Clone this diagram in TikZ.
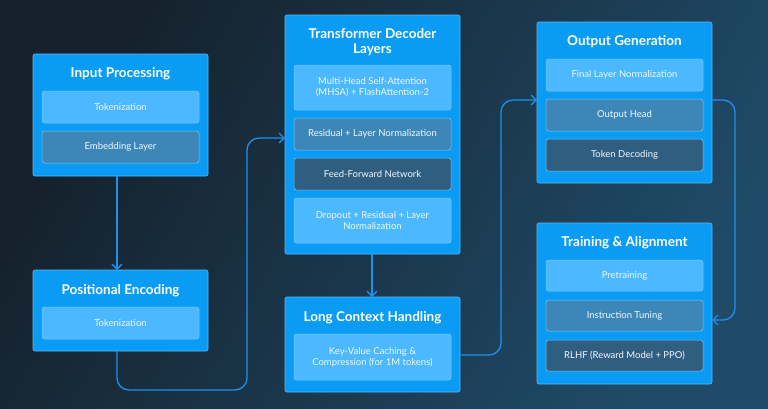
\documentclass[tikz,border=0pt]{standalone}
\usepackage{fontspec}
\setmainfont{Lato}
\usetikzlibrary{arrows.meta}
\definecolor{bgA}{HTML}{15212C}
\definecolor{bgB}{HTML}{1F4B68}
\definecolor{outer}{HTML}{0A9BF5}
\definecolor{lite}{HTML}{4CB8FF}
\definecolor{midc}{HTML}{3D87B8}
\definecolor{dark}{HTML}{2F5E80}
\definecolor{edge}{HTML}{7CC8F5}
\definecolor{wire}{HTML}{1E90F0}
\begin{document}
\begin{tikzpicture}[x=1pt,y=-1pt,
  box/.style={draw=edge!70!outer,line width=0.6pt,fill=outer,rounded corners=2pt},
  sub/.style={draw=edge,line width=0.5pt,rounded corners=2.5pt,text=white!92!lite,font=\fontsize{9.5}{11}\selectfont,align=center,inner sep=0pt},
  ttl/.style={text=white,font=\fontsize{13.5}{15}\selectfont\bfseries,align=center},
  wr/.style={draw=wire,line width=1.3pt,rounded corners=12pt,-{Straight Barb[length=5pt,width=10pt]}}]
\shade[left color=bgA,right color=bgB,shading angle=60] (0,0) rectangle (768,408);
\useasboundingbox (0,0) rectangle (768,408);
% boxes
\path[box] (33,54) rectangle (208,176) coordinate (ipBR);
\node[box,draw=none,fill=none,minimum width=0pt] (ip) at (120.5,115) {};
\coordinate (ipb) at (117,176);
\node[ttl] (ipt) at (120.5,74) {Input Processing};
\node[sub,fill=lite,minimum width=157pt,minimum height=32pt] (ip1) at (120.5,107) {Tokenization};
\node[sub,fill=midc,minimum width=157pt,minimum height=32pt] (ip2) at (120.5,147) {Embedding Layer};

\path[box] (33,270) rectangle (208,351);
\node[ttl] (pet) at (120.5,291) {Positional Encoding};
\node[sub,fill=lite,minimum width=157pt,minimum height=32pt] (pe1) at (120.5,323) {Tokenization};
\coordinate (pet0) at (117,270);
\coordinate (peb) at (117,351);

\path[box] (285,15) rectangle (460,254);
\node[ttl] (tdt) at (372.5,42) {Transformer Decoder\\Layers};
\node[sub,fill=lite,minimum width=157pt,minimum height=45pt] (td1) at (372.5,87.5) {Multi-Head Self-Attention\\(MHSA) + FlashAttention-2};
\node[sub,fill=midc,minimum width=157pt,minimum height=32pt] (td2) at (372.5,134) {Residual + Layer Normalization};
\node[sub,fill=dark,minimum width=157pt,minimum height=32pt] (td3) at (372.5,174) {Feed-Forward Network};
\node[sub,fill=lite,minimum width=157pt,minimum height=45pt] (td4) at (372.5,220.5) {Dropout + Residual + Layer\\Normalization};
\coordinate (tdl) at (285,138);
\coordinate (tdb) at (372,254);

\path[box] (285,297) rectangle (460,392);
\node[ttl] (lct) at (372.5,318) {Long Context Handling};
\node[sub,fill=lite,minimum width=157pt,minimum height=46pt] (lc1) at (372.5,357) {Key-Value Caching \&\\Compression (for 1M tokens)};
\coordinate (lct0) at (372,297);
\coordinate (lcr) at (460,355);

\path[box] (537,22) rectangle (712,183);
\node[ttl] (ogt) at (624.5,42) {Output Generation};
\node[sub,fill=lite,minimum width=157pt,minimum height=32pt] (og1) at (624.5,75) {Final Layer Normalization};
\node[sub,fill=midc,minimum width=157pt,minimum height=32pt] (og2) at (624.5,115) {Output Head};
\node[sub,fill=dark,minimum width=157pt,minimum height=32pt] (og3) at (624.5,155) {Token Decoding};
\coordinate (ogl) at (537,100);
\coordinate (ogr) at (712,100);

\path[box] (537,223) rectangle (712,384);
\node[ttl] (tat) at (624.5,243) {Training \& Alignment};
\node[sub,fill=lite,minimum width=157pt,minimum height=31pt] (ta1) at (624.5,275.5) {Pretraining};
\node[sub,fill=midc,minimum width=157pt,minimum height=31pt] (ta2) at (624.5,315.5) {Instruction Tuning};
\node[sub,fill=dark,minimum width=157pt,minimum height=31pt] (ta3) at (624.5,355.5) {RLHF (Reward Model + PPO)};
\coordinate (tar) at (712,320);

% connectors
\draw[wr] (ipb) -- (pet0);
\draw[wr] (peb) -- (117,390) -- (247,390) -- (247,138) -- (tdl);
\draw[wr] (tdb) -- (lct0);
\draw[wr] (lcr) -- (501,355) -- (501,100) -- (ogl);
\draw[wr] (ogr) -- (735,100) -- (735,320) -- (tar);
\end{tikzpicture}
\end{document}
